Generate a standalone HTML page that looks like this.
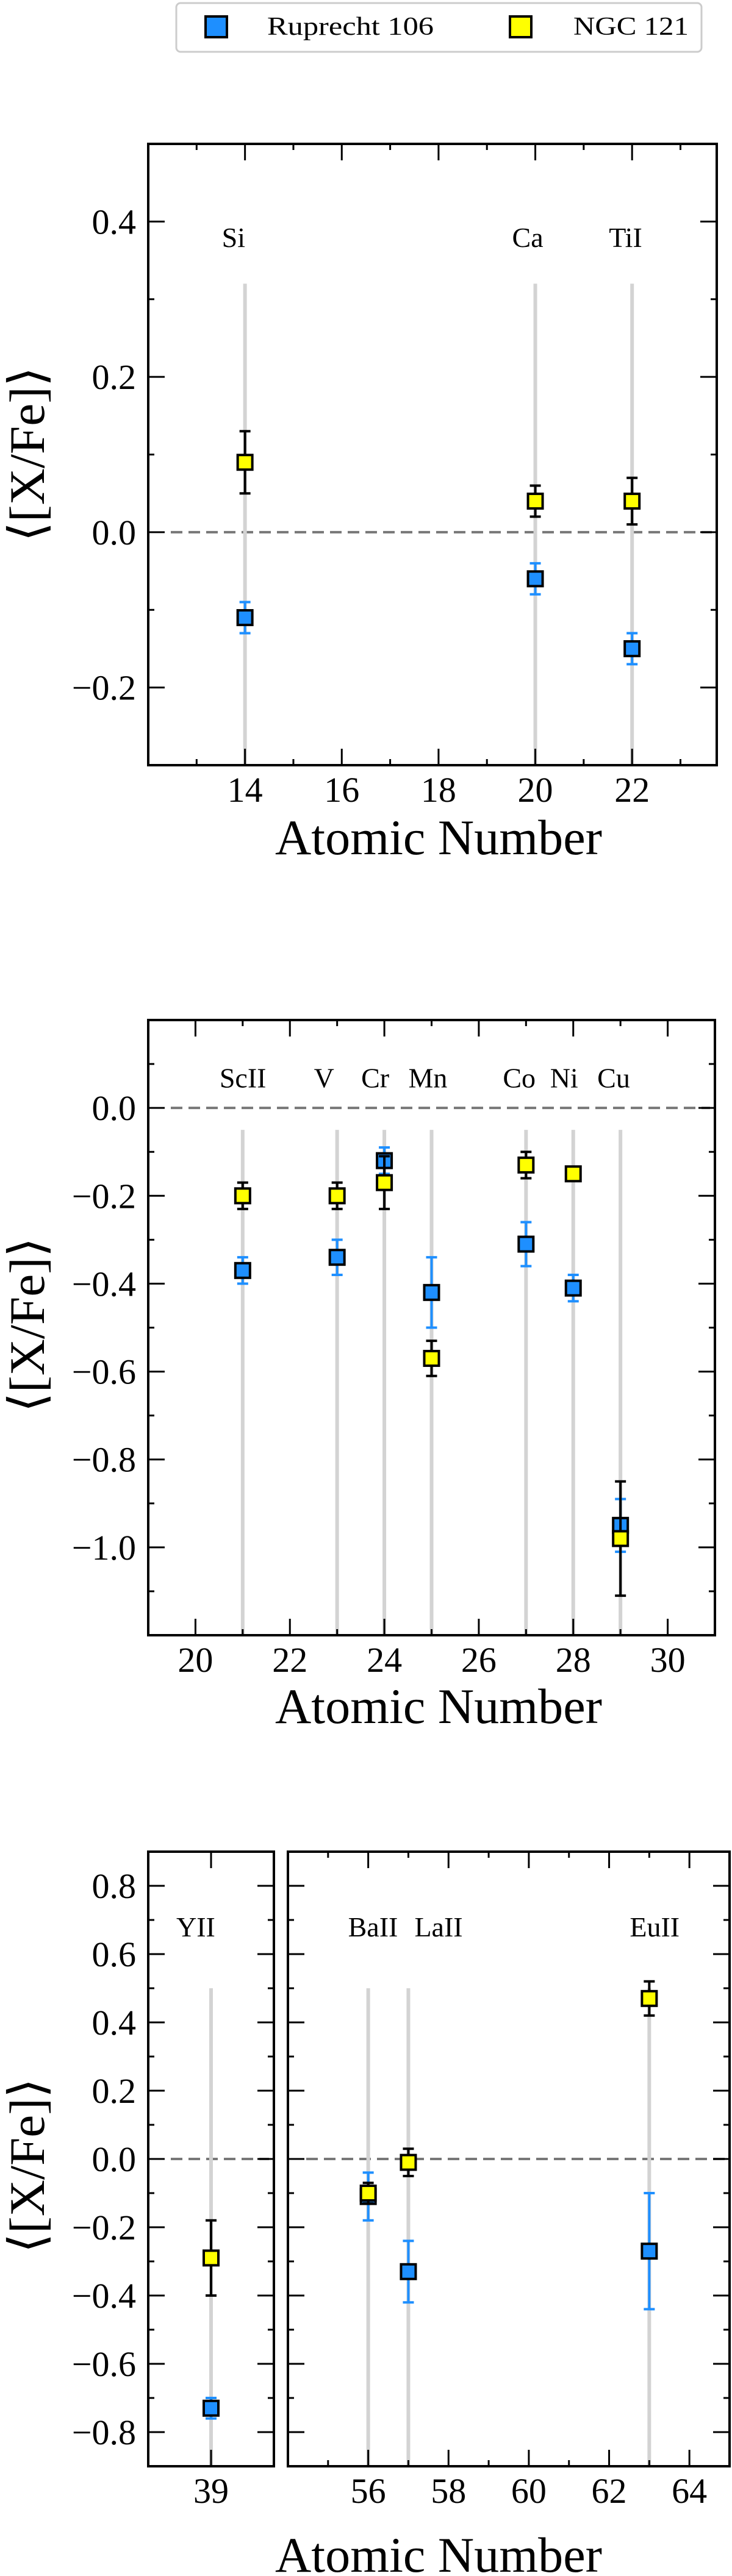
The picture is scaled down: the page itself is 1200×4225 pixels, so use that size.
<!DOCTYPE html>
<html><head><meta charset="utf-8"><style>
html,body{margin:0;padding:0;background:#fff;}
svg{display:block;font-family:"Liberation Serif","DejaVu Serif",serif;}
</style></head><body>
<svg id="fig" width="1200" height="4225" viewBox="0 0 1200 4225" xmlns="http://www.w3.org/2000/svg">
  <g>
    <rect x="289" y="5" width="861" height="80" rx="7" fill="#fff" stroke="#ccc" stroke-width="3"/>
    <rect x="337" y="27" width="35" height="34" fill="#1e8fff" stroke="#000" stroke-width="4"/>
    <text x="438" y="57" font-size="42" textLength="273" lengthAdjust="spacingAndGlyphs">Ruprecht 106</text>
    <rect x="836" y="27" width="35" height="34" fill="#ffff00" stroke="#000" stroke-width="4"/>
    <text x="940" y="57" font-size="42" textLength="189" lengthAdjust="spacingAndGlyphs">NGC 121</text>
  </g>
</svg>
<script>
// Panel 1 data
const p1Elements = ["Si","Ca","TiI"];
const p1Z = [14,20,22];
const p1Blue = [-0.11,-0.06,-0.15];
const p1BlueErr = [0.02,0.02,0.02];
const p1Yellow = [0.09,0.04,0.04];
const p1YellowErr = [0.04,0.02,0.03];
const p1XTicks = [14,16,18,20,22];
const p1YTicks = [-0.2,0.0,0.2,0.4];
const p1YTickLabels = ["\u22120.2","0.0","0.2","0.4"];
// Panel 2 data
const p2Elements = ["ScII","V","Cr","Mn","Co","Ni","Cu"];
const p2Z = [21,23,24,25,27,28,29];
const p2Blue = [-0.37,-0.34,-0.12,-0.42,-0.31,-0.41,-0.95];
const p2BlueErr = [0.03,0.04,0.03,0.08,0.05,0.03,0.06];
const p2Yellow = [-0.20,-0.20,-0.17,-0.57,-0.13,-0.15,-0.98];
const p2YellowErr = [0.03,0.03,0.06,0.04,0.03,0.01,0.13];
const p2XTicks = [20,22,24,26,28,30];
const p2YTicks = [-1.0,-0.8,-0.6,-0.4,-0.2,0.0];
const p2YTickLabels = ["\u22121.0","\u22120.8","\u22120.6","\u22120.4","\u22120.2","0.0"];
// Panel 3 data
const p3aElements = ["YII"];
const p3aZ = [39];
const p3aBlue = [-0.73];
const p3aBlueErr = [0.03];
const p3aYellow = [-0.29];
const p3aYellowErr = [0.11];
const p3bElements = ["BaII","LaII","EuII"];
const p3bZ = [56,57,63];
const p3bBlue = [-0.11,-0.33,-0.27];
const p3bBlueErr = [0.07,0.09,0.17];
const p3bYellow = [-0.10,-0.01,0.47];
const p3bYellowErr = [0.03,0.04,0.05];
const p3aXTicks = [39];
const p3bXTicks = [56,58,60,62,64];
const p3YTicks = [-0.8,-0.6,-0.4,-0.2,0.0,0.2,0.4,0.6,0.8];
const p3YTickLabels = ["\u22120.8","\u22120.6","\u22120.4","\u22120.2","0.0","0.2","0.4","0.6","0.8"];

const NS="http://www.w3.org/2000/svg";
const svg=document.getElementById('fig');
function mk(tag,attrs,parent){const e=document.createElementNS(NS,tag);for(const k in attrs)e.setAttribute(k,attrs[k]);(parent||svg).appendChild(e);return e;}

function panel(cfg){
  const g=mk('g',{});
  
  
  const {L,R,T,B,x0,x1,y0,y1}=cfg;
  const sx=v=>L+(v-x0)/(x1-x0)*(R-L);
  const sy=v=>B-(v-y0)/(y1-y0)*(B-T);
  const z=mk('line',{x1:L+(cfg.dashInset||37),x2:R-8,y1:sy(0),y2:sy(0),stroke:'#777','stroke-width':4,'stroke-dasharray':'19 10'},g);
  
  
  cfg.Z.forEach((zv,i)=>{
    const l=mk('line',{x1:sx(zv),x2:sx(zv),y1:sy(cfg.lineTop),y2:B,stroke:'#d3d3d3','stroke-width':6},g);
    
    
    const dx=(cfg.labDx&&cfg.labDx[i]!==undefined)?cfg.labDx[i]:-38;
    const t=mk('text',{x:sx(zv)+dx,y:sy(cfg.labY)+16,'font-size':46},g);
    t.textContent=cfg.el[i];
    
    
  });
  function series(vals,errs,fill,ecol,nm){
    cfg.Z.forEach((zv,i)=>{
      const x=sx(zv),y=sy(vals[i]),yt=sy(vals[i]+errs[i]),yb=sy(vals[i]-errs[i]);
      const eg=mk('g',{},g);
      
      
      mk('line',{x1:x,x2:x,y1:yt,y2:yb,stroke:ecol,'stroke-width':4},eg);
      mk('line',{x1:x-9,x2:x+9,y1:yt,y2:yt,stroke:ecol,'stroke-width':4},eg);
      mk('line',{x1:x-9,x2:x+9,y1:yb,y2:yb,stroke:ecol,'stroke-width':4},eg);
      const r=mk('rect',{x:x-12,y:y-12,width:24,height:24,fill:fill,stroke:'#000','stroke-width':4},g);
      
      
    });
  }
  series(cfg.blue,cfg.blueErr,'#1e8fff','#1e8fff','ruprecht106');
  series(cfg.yel,cfg.yelErr,'#ffff00','#000','ngc121');
  const f=mk('rect',{x:L,y:T,width:R-L,height:B-T,fill:'none',stroke:'#000','stroke-width':4},g);
  
  
  for(let v=Math.ceil(y0*10-1e-6);v<=Math.floor(y1*10+1e-6);v++){
    const yy=sy(v/10);const major=Math.abs(v%2)===0;const len=major?27:10;
    mk('line',{x1:L,x2:L+len,y1:yy,y2:yy,stroke:'#000','stroke-width':3},g);
    mk('line',{x1:R,x2:R-len,y1:yy,y2:yy,stroke:'#000','stroke-width':3},g);
  }
  if(cfg.yLabels){
    cfg.yTicks.forEach((v,i)=>{
      const t=mk('text',{x:223,y:sy(v)+20,'font-size':58,'text-anchor':'end'},g);
      t.textContent=cfg.yTickLabels[i];
      
      
    });
  }
  for(let v=Math.ceil(x0);v<=Math.floor(x1);v++){
    if(cfg.onlyMajor && !cfg.xTicks.includes(v)) continue;
    const xx=sx(v);const major=cfg.xTicks.includes(v);const len=major?27:10;
    mk('line',{x1:xx,x2:xx,y1:B,y2:B-len,stroke:'#000','stroke-width':3},g);
    mk('line',{x1:xx,x2:xx,y1:T,y2:T+len,stroke:'#000','stroke-width':3},g);
  }
  cfg.xTicks.forEach(v=>{
    const t=mk('text',{x:sx(v),y:B+60,'font-size':58,'text-anchor':'middle'},g);
    t.textContent=String(v);
    
    
  });
}
function axisLabels(xlY,ylX,ylY){
  const t=mk('text',{x:719,y:xlY,'font-size':82,'text-anchor':'middle',textLength:536,lengthAdjust:'spacingAndGlyphs'});
  t.textContent='Atomic Number';
  
  
  const y=mk('text',{x:0,y:0,'font-size':82,'text-anchor':'middle',textLength:287,lengthAdjust:'spacingAndGlyphs',transform:`translate(${ylX},${ylY}) rotate(-90)`});
  y.textContent='\u27E8[X/Fe]\u27E9';
  
  
}

panel({name:'panel-alpha',L:243,R:1175,T:236,B:1255,x0:12,x1:23.75,y0:-0.3,y1:0.5,
  Z:p1Z,el:p1Elements,blue:p1Blue,blueErr:p1BlueErr,yel:p1Yellow,yelErr:p1YellowErr,
  lineTop:0.32,labY:0.38,xTicks:p1XTicks,yTicks:p1YTicks,yTickLabels:p1YTickLabels,yLabels:true});
axisLabels(1401,72,745);

panel({name:'panel-iron-peak',L:243,R:1172,T:1673,B:2682,x0:19,x1:31,y0:-1.2,y1:0.2,
  Z:p2Z,el:p2Elements,blue:p2Blue,blueErr:p2BlueErr,yel:p2Yellow,yelErr:p2YellowErr,
  lineTop:-0.05,labY:0.069,xTicks:p2XTicks,yTicks:p2YTicks,yTickLabels:p2YTickLabels,yLabels:true});
axisLabels(2826,72,2173);

panel({name:'panel-neutron-capture-y',L:243,R:449,T:3037,B:4045,x0:38.1,x1:39.9,y0:-0.9,y1:0.9,
  Z:p3aZ,el:p3aElements,blue:p3aBlue,blueErr:p3aBlueErr,yel:p3aYellow,yelErr:p3aYellowErr,
  lineTop:0.5,labY:0.68,labDx:[-57],xTicks:p3aXTicks,onlyMajor:true,yTicks:p3YTicks,yTickLabels:p3YTickLabels,yLabels:true});
panel({name:'panel-neutron-capture-heavy',L:472,R:1196,T:3037,B:4045,x0:54,x1:65,y0:-0.9,y1:0.9,dashInset:30,
  Z:p3bZ,el:p3bElements,blue:p3bBlue,blueErr:p3bBlueErr,yel:p3bYellow,yelErr:p3bYellowErr,
  lineTop:0.5,labY:0.68,labDx:[-33,10,-32],xTicks:p3bXTicks,yTicks:p3YTicks,yTickLabels:p3YTickLabels,yLabels:false});
axisLabels(4218,72,3552);
</script>
</body></html>
